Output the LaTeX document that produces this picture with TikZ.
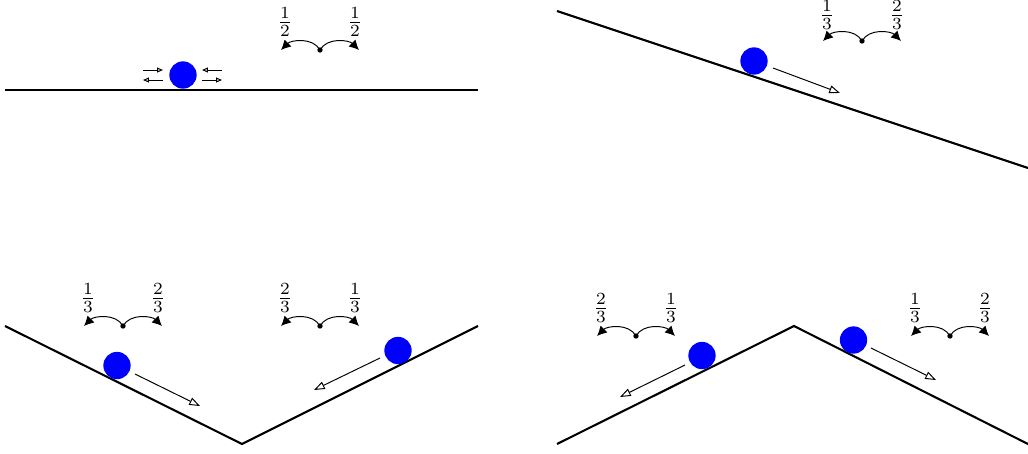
\documentclass[tikz,border=0pt]{standalone}
\usetikzlibrary{arrows.meta,calc}
\newcommand\mybranch[5][28]{%
  \node[bdot] (#2) at (#3) {};
  \coordinate (#2L) at ($(#2)+(-39,0)$);
  \coordinate (#2R) at ($(#2)+(39,0)$);
  \draw[barc] (#2.center) .. controls +(-7,-13) and +(10,-10) .. (#2L);
  \draw[barc] (#2.center) .. controls +(7,-13) and +(-10,-10) .. (#2R);
  \node[prob] (#2l) at ($(#2)+(-35,-#1)$) {$#4$};
  \node[prob] (#2r) at ($(#2)+(35,-#1)$) {$#5$};
}
\begin{document}
\begin{tikzpicture}[x=0.41pt,y=-0.41pt,
  ground/.style={line width=0.85pt},
  ball/.style={circle,fill=blue,inner sep=0pt,minimum size=11.2pt},
  slide/.style={-{Triangle[open,length=4.4pt,width=3.2pt]},line width=0.4pt},
  jiggle/.style={-{Triangle[open,length=2.4pt,width=2pt]},line width=0.4pt},
  bdot/.style={circle,fill=black,inner sep=0pt,minimum size=2.2pt},
  barc/.style={-{Latex[length=4pt,width=4pt]},line width=0.4pt},
  prob/.style={inner sep=0pt}]
\useasboundingbox (0,0) rectangle (1028,453);
% panel 1
\coordinate (g1a) at (5,90); \coordinate (g1b) at (478,90);
\draw[ground] (g1a) -- (g1b);
\node[ball] (ball1) at (183,75) {};
\coordinate (j1a) at (143,70); \coordinate (j1b) at (163,70);
\coordinate (j2a) at (163,80); \coordinate (j2b) at (143,80);
\coordinate (j3a) at (222,70); \coordinate (j3b) at (202,70);
\coordinate (j4a) at (202,80); \coordinate (j4b) at (222,80);
\draw[jiggle] (j1a) -- (j1b);
\draw[jiggle] (j2a) -- (j2b);
\draw[jiggle] (j3a) -- (j3b);
\draw[jiggle] (j4a) -- (j4b);
\mybranch{p1}{320,50}{\frac{1}{2}}{\frac{1}{2}}
% panel 2
\coordinate (g2a) at (557,11); \coordinate (g2b) at (1028,168);
\draw[ground] (g2a) -- (g2b);
\node[ball] (ball2) at (754,61) {};
\coordinate (s2a) at (773,68); \coordinate (s2b) at (840,93);
\draw[slide] (s2a) -- (s2b);
\mybranch[26]{p2}{862,41}{\frac{1}{3}}{\frac{2}{3}}
% panel 3
\coordinate (g3a) at (5,326); \coordinate (g3b) at (242,444); \coordinate (g3c) at (478,326);
\draw[ground] (g3a) -- (g3b) -- (g3c);
\node[ball] (ball3) at (117,365.5) {};
\node[ball] (ball4) at (398,350.5) {};
\coordinate (s3a) at (135,374); \coordinate (s3b) at (200,406);
\coordinate (s4a) at (380,358); \coordinate (s4b) at (314,390);
\draw[slide] (s3a) -- (s3b);
\draw[slide] (s4a) -- (s4b);
\mybranch{p3}{123,326}{\frac{1}{3}}{\frac{2}{3}}
\mybranch{p4}{320,326}{\frac{2}{3}}{\frac{1}{3}}
% panel 4
\coordinate (g4a) at (557,444); \coordinate (g4b) at (794,326); \coordinate (g4c) at (1028,444);
\draw[ground] (g4a) -- (g4b) -- (g4c);
\node[ball] (ball5) at (702,355.5) {};
\node[ball] (ball6) at (853.5,340) {};
\coordinate (s5a) at (685,365); \coordinate (s5b) at (620,397);
\coordinate (s6a) at (871,348); \coordinate (s6b) at (936,380);
\draw[slide] (s5a) -- (s5b);
\draw[slide] (s6a) -- (s6b);
\mybranch{p5}{636,336}{\frac{2}{3}}{\frac{1}{3}}
\mybranch{p6}{950,336}{\frac{1}{3}}{\frac{2}{3}}
\end{tikzpicture}
\end{document}
